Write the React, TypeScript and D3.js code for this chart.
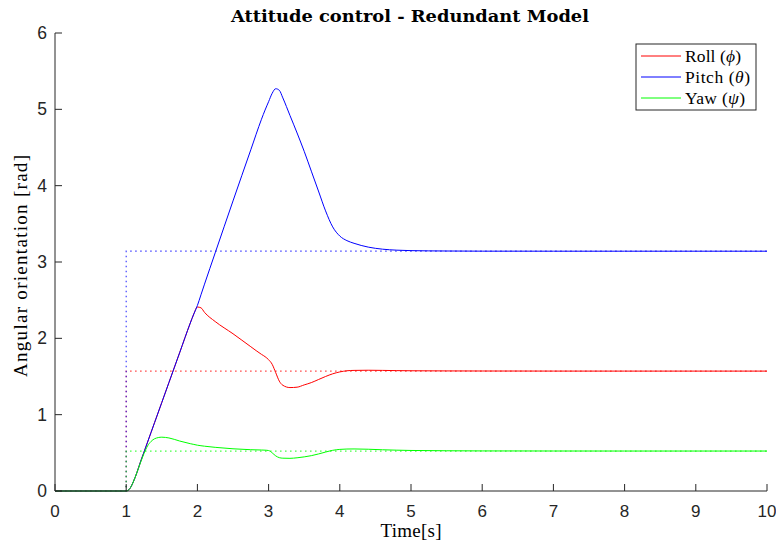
import React from 'react';
import * as d3 from 'd3';

// time samples [s] and the three attitude angles [rad]
const time = [0, 1, 1.05, 1.1, 1.15, 1.2, 1.25, 1.3, 1.35, 1.4, 1.5, 1.6, 1.75, 1.9, 1.95, 2.0, 2.05, 2.1, 2.25, 2.5, 2.75, 2.9, 2.95, 3.0, 3.05, 3.1, 3.15, 3.2, 3.3, 3.4, 3.5, 3.6, 3.7, 3.8, 3.9, 4.0, 4.1, 4.2, 4.4, 4.6, 4.8, 5.0, 5.5, 6, 7, 8, 10];
const roll = [0, 0, 0.03, 0.12, 0.24, 0.38, 0.51, 0.64, 0.77, 0.9, 1.16, 1.42, 1.81, 2.2, 2.32, 2.41, 2.4, 2.34, 2.22, 2.06, 1.89, 1.79, 1.76, 1.72, 1.66, 1.55, 1.44, 1.385, 1.355, 1.36, 1.39, 1.42, 1.46, 1.5, 1.535, 1.56, 1.575, 1.58, 1.582, 1.58, 1.577, 1.575, 1.573, 1.572, 1.571, 1.5708, 1.5708];
const pitch = [0, 0, 0.03, 0.12, 0.24, 0.38, 0.51, 0.64, 0.77, 0.9, 1.16, 1.42, 1.81, 2.2, 2.32, 2.43, 2.57, 2.71, 3.12, 3.8, 4.47, 4.87, 4.99, 5.1, 5.21, 5.27, 5.25, 5.15, 4.92, 4.69, 4.45, 4.19, 3.93, 3.67, 3.46, 3.34, 3.28, 3.245, 3.195, 3.168, 3.155, 3.149, 3.144, 3.142, 3.1416, 3.1416, 3.1416];
const yaw = [0, 0, 0.03, 0.12, 0.24, 0.37, 0.49, 0.59, 0.65, 0.685, 0.705, 0.695, 0.655, 0.62, 0.61, 0.6, 0.593, 0.587, 0.572, 0.553, 0.541, 0.537, 0.535, 0.53, 0.5, 0.46, 0.437, 0.43, 0.428, 0.435, 0.447, 0.463, 0.485, 0.51, 0.533, 0.545, 0.55, 0.551, 0.547, 0.54, 0.535, 0.531, 0.527, 0.525, 0.524, 0.5236, 0.5236];

// step references
const refTime = [0, 1, 1, 10];
const rollRef = [0, 0, 1.5708, 1.5708];
const pitchRef = [0, 0, 3.1416, 3.1416];
const yawRef = [0, 0, 0.5236, 0.5236];

const xTicks = [0, 1, 2, 3, 4, 5, 6, 7, 8, 9, 10];
const yTicks = [0, 1, 2, 3, 4, 5, 6];

const W = 776;
const H = 548;
const margin = { left: 55, right: 9, top: 33, bottom: 57 };
const axisColor = '#262626';

const series = [
  { name: 'Roll', sym: 'ϕ', values: roll, ref: rollRef, color: '#ff0000', width: 56 },
  { name: 'Pitch', sym: 'θ', values: pitch, ref: pitchRef, color: '#0000ff', width: 65 },
  { name: 'Yaw', sym: 'ψ', values: yaw, ref: yawRef, color: '#00ff00', width: 60 },
];

export default function App() {
  const x = d3.scaleLinear().domain([0, 10]).range([margin.left, W - margin.right]);
  const y = d3.scaleLinear().domain([0, 6]).range([H - margin.bottom, margin.top]);

  const smooth = d3
    .line<number>()
    .x((d, i) => x(time[i]))
    .y((d) => y(d))
    .curve(d3.curveMonotoneX);

  const step = d3
    .line<number>()
    .x((d, i) => x(refTime[i]))
    .y((d) => y(d));

  const x0 = x(0);
  const y0 = y(0);

  return (
    <svg width={W} height={H} style={{ position: 'absolute', left: 0, top: 0, background: '#fff' }}>
      {/* title */}
      <text x={410} y={22} textAnchor="middle" fontFamily="'DejaVu Serif', serif" fontWeight="bold" fontSize={16} textLength={358} lengthAdjust="spacingAndGlyphs" fill="#000">
        Attitude control - Redundant Model
      </text>

      {/* data lines */}
      {series.map((s) => (
        <path key={s.name} d={smooth(s.values) || ''} fill="none" stroke={s.color} strokeWidth={1} />
      ))}
      {series.map((s) => (
        <path key={s.name + 'ref'} d={step(s.ref) || ''} fill="none" stroke={s.color} strokeOpacity={0.75} strokeWidth={1.2} strokeDasharray="1.5 3.5" />
      ))}

      {/* axes */}
      <line x1={x0} x2={x(10)} y1={y0} y2={y0} stroke={axisColor} strokeWidth={1} />
      <line x1={x0} x2={x0} y1={y0} y2={y(6)} stroke={axisColor} strokeWidth={1} />
      {xTicks.map((t) => (
        <g key={'x' + t}>
          <line x1={x(t)} x2={x(t)} y1={y0} y2={y0 - 7} stroke={axisColor} />
          <text x={x(t)} y={517} textAnchor="middle" fontFamily="'Liberation Sans', Arial, sans-serif" fontSize={17} fill={axisColor}>
            {t}
          </text>
        </g>
      ))}
      {yTicks.map((t) => (
        <g key={'y' + t}>
          <line x1={x0} x2={x0 + 7} y1={y(t)} y2={y(t)} stroke={axisColor} />
          <text x={47} y={y(t) + 6} textAnchor="end" fontFamily="'Liberation Sans', Arial, sans-serif" fontSize={17.5} fill={axisColor}>
            {t}
          </text>
        </g>
      ))}

      {/* axis labels */}
      <text x={411} y={537} textAnchor="middle" fontFamily="'Liberation Serif', serif" fontSize={19} textLength={61} lengthAdjust="spacing" fill="#000">
        Time[s]
      </text>
      <text transform={`translate(27,266) rotate(-90)`} textAnchor="middle" fontFamily="'Liberation Serif', serif" fontSize={19} textLength={222} lengthAdjust="spacing" fill="#000">
        Angular orientation [rad]
      </text>

      {/* legend */}
      <g>
        <rect x={636} y={44} width={120} height={66} fill="#fff" stroke={axisColor} strokeWidth={1} />
        {series.map((s, i) => (
          <g key={'leg' + s.name}>
            <line x1={641} x2={681} y1={56 + i * 21} y2={56 + i * 21} stroke={s.color} strokeWidth={1} />
            <text x={685} y={62 + i * 21} fontFamily="'Liberation Serif', serif" fontSize={17.5} textLength={s.width} lengthAdjust="spacing" fill="#000">
              {s.name} (<tspan fontStyle="italic">{s.sym}</tspan>)
            </text>
          </g>
        ))}
      </g>
    </svg>
  );
}
